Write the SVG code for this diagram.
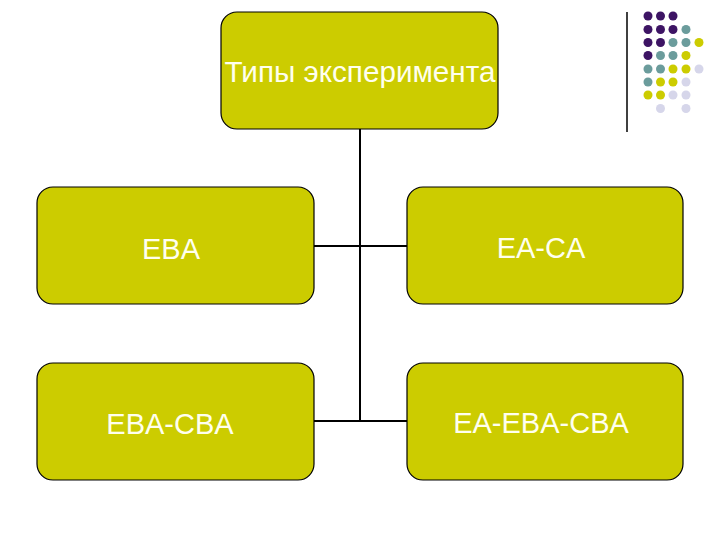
<svg xmlns="http://www.w3.org/2000/svg" width="720" height="540" viewBox="0 0 720 540">
<style>
.node rect{fill:#cccc00;stroke:#000;stroke-width:1.2}
.node text{font-family:"Liberation Sans",Arial,sans-serif;fill:#ffffee;text-anchor:middle;font-size:29px}
.conn line{stroke:#000;stroke-width:2}
.p{fill:#3d1464}.t{fill:#6b9c9c}.y{fill:#cccc00}.l{fill:#d6d6ea}
</style>
<rect width="720" height="540" fill="#fff"/>
<g id="decor">
<line x1="627" y1="12" x2="627" y2="132" stroke="#000" stroke-width="1.5"/>
<g>
<circle class="p" cx="648" cy="16" r="4.5"/><circle class="p" cx="660.5" cy="16" r="4.5"/><circle class="p" cx="673" cy="16" r="4.5"/>
<circle class="p" cx="648" cy="29.5" r="4.5"/><circle class="p" cx="660.5" cy="29.5" r="4.5"/><circle class="p" cx="673" cy="29.5" r="4.5"/><circle class="t" cx="686" cy="29.5" r="4.5"/>
<circle class="p" cx="648" cy="42.5" r="4.5"/><circle class="p" cx="660.5" cy="42.5" r="4.5"/><circle class="t" cx="673" cy="42.5" r="4.5"/><circle class="t" cx="686" cy="42.5" r="4.5"/><circle class="y" cx="699" cy="42.5" r="4.5"/>
<circle class="p" cx="648" cy="55.5" r="4.5"/><circle class="t" cx="660.5" cy="55.5" r="4.5"/><circle class="t" cx="673" cy="55.5" r="4.5"/><circle class="y" cx="686" cy="55.5" r="4.5"/>
<circle class="t" cx="648" cy="69" r="4.5"/><circle class="t" cx="660.5" cy="69" r="4.5"/><circle class="y" cx="673" cy="69" r="4.5"/><circle class="y" cx="686" cy="69" r="4.5"/><circle class="l" cx="699" cy="69" r="4.5"/>
<circle class="t" cx="648" cy="82" r="4.5"/><circle class="y" cx="660.5" cy="82" r="4.5"/><circle class="y" cx="673" cy="82" r="4.5"/><circle class="l" cx="686" cy="82" r="4.5"/>
<circle class="y" cx="648" cy="95" r="4.5"/><circle class="y" cx="660.5" cy="95" r="4.5"/><circle class="l" cx="673" cy="95" r="4.5"/><circle class="l" cx="686" cy="95" r="4.5"/>
<circle class="l" cx="660.5" cy="108.5" r="4.5"/><circle class="l" cx="686" cy="108.5" r="4.5"/>
</g>
</g>
<g class="conn" id="connectors">
<line x1="360" y1="129" x2="360" y2="421"/>
<line x1="314" y1="246" x2="407" y2="246"/>
<line x1="314" y1="421" x2="407" y2="421"/>
</g>
<g class="node" id="root"><rect x="221" y="12" width="277" height="117" rx="16"/><text x="360" y="82" font-size="26" textLength="271" lengthAdjust="spacingAndGlyphs">Типы эксперимента</text></g>
<g class="node" id="eba"><rect x="37" y="187" width="277" height="117" rx="16"/><text x="171" y="259">EBA</text></g>
<g class="node" id="eaca"><rect x="407" y="187" width="276" height="117" rx="16"/><text x="541" y="258">EA-CA</text></g>
<g class="node" id="ebacba"><rect x="37" y="363" width="277" height="117" rx="16"/><text x="170" y="434">EBA-CBA</text></g>
<g class="node" id="eaebacba"><rect x="407" y="363" width="276" height="117" rx="16"/><text x="541" y="433">EA-EBA-CBA</text></g>
</svg>
